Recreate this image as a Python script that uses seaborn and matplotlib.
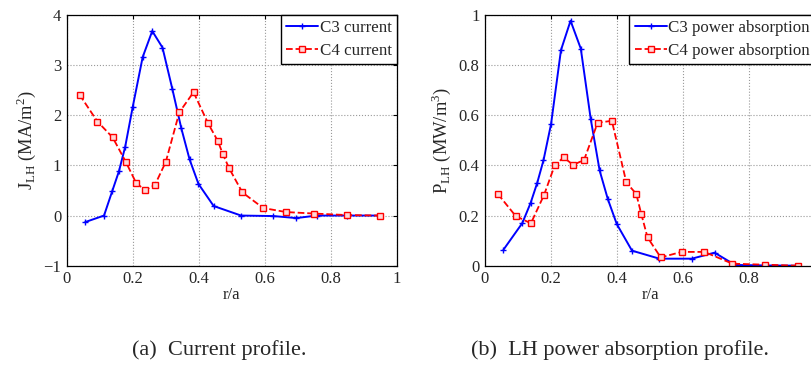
import matplotlib
matplotlib.use("Agg")
from matplotlib import pyplot as plt
import seaborn as sns

# r/a positions of the two profiles
r_c3 = [0.056, 0.113, 0.138, 0.158, 0.177, 0.200, 0.230, 0.259, 0.290, 0.320,
        0.347, 0.372, 0.399, 0.445, 0.528, 0.626, 0.695, 0.757, 0.848, 0.948]
r_c4 = [0.039, 0.093, 0.139, 0.179, 0.211, 0.238, 0.267, 0.300, 0.341, 0.384,
        0.428, 0.458, 0.473, 0.492, 0.532, 0.595, 0.664, 0.749, 0.848, 0.948]

# LH driven current (MA/m^2)
j_c3 = [-0.13, 0.0, 0.49, 0.88, 1.37, 2.17, 3.16, 3.68, 3.35, 2.52,
        1.74, 1.12, 0.63, 0.19, 0.0, -0.01, -0.05, 0.0, 0.0, 0.0]
j_c4 = [2.41, 1.875, 1.56, 1.07, 0.64, 0.51, 0.61, 1.07, 2.06, 2.46,
        1.84, 1.48, 1.22, 0.94, 0.46, 0.15, 0.07, 0.04, 0.01, 0.0]

# LH power absorption (MW/m^3)
p_c3 = [0.064, 0.17, 0.25, 0.33, 0.42, 0.565, 0.86, 0.977, 0.866, 0.586,
        0.38, 0.265, 0.166, 0.06, 0.028, 0.028, 0.052, 0.003, 0.001, 0.0]
p_c4 = [0.286, 0.198, 0.169, 0.283, 0.40, 0.432, 0.402, 0.422, 0.57, 0.578,
        0.332, 0.286, 0.207, 0.113, 0.033, 0.055, 0.055, 0.008, 0.004, 0.0]

sns.set_style("white")
plt.rcParams['font.family'] = ['Liberation Serif', 'DejaVu Serif']
plt.rcParams['mathtext.fontset'] = 'custom'
plt.rcParams['mathtext.rm'] = 'Liberation Serif'

fig = plt.figure(figsize=(8.12, 3.67), dpi=100)
W, H = 812, 367
ax1 = fig.add_axes([66.7 / W, 1 - 265.7 / H, 330.3 / W, 250.7 / H])
ax2 = fig.add_axes([485 / W, 1 - 265.7 / H, 330.3 / W, 250.7 / H])


def draw(ax, y3, y4, lab3, lab4):
    sns.lineplot(x=r_c3, y=y3, ax=ax, color='blue', lw=1.4, marker='+',
                 markersize=4, markeredgewidth=1.0, markeredgecolor='blue',
                 label=lab3)
    sns.lineplot(x=r_c4, y=y4, ax=ax, color='red', lw=1.3, linestyle='--',
                 marker='s', markersize=4, markerfacecolor='#ffd8d8',
                 markeredgecolor='red', markeredgewidth=1.0, label=lab4)
    ax.grid(True, linestyle=':', color='#999999', lw=0.8)
    for s in ax.spines.values():
        s.set_color('black')
        s.set_linewidth(0.9)
    ax.tick_params(direction='in', length=3, labelsize=12, color='black',
                   top=True, right=True, pad=4)
    ax.set_xlabel('r/a', fontsize=12, labelpad=0)
    leg = ax.legend(loc='upper right', fancybox=False, framealpha=1,
                    edgecolor='black', fontsize=12.2, borderaxespad=0,
                    handlelength=1.9, handletextpad=0.1, borderpad=0.3,
                    labelspacing=0.4)
    leg.get_frame().set_linewidth(1.0)


draw(ax1, j_c3, j_c4, 'C3 current', 'C4 current')
ax1.set_xlim(0, 1)
ax1.set_ylim(-1, 4)
ax1.set_xticks([0, 0.2, 0.4, 0.6, 0.8, 1])
ax1.set_xticklabels(['0', '0.2', '0.4', '0.6', '0.8', '1'])
ax1.set_yticks([-1, 0, 1, 2, 3, 4])
ax1.set_yticklabels(['\u22121', '0', '1', '2', '3', '4'])
ax1.set_ylabel(r'J$_{\mathrm{LH}}$ (MA/m$^2$)', fontsize=13.3, labelpad=4)

draw(ax2, p_c3, p_c4, 'C3 power absorption', 'C4 power absorption')
ax2.set_xlim(0, 1)
ax2.set_ylim(0, 1)
ax2.set_xticks([0, 0.2, 0.4, 0.6, 0.8, 1])
ax2.set_xticklabels(['0', '0.2', '0.4', '0.6', '0.8', ''])
ax2.set_yticks([0, 0.2, 0.4, 0.6, 0.8, 1])
ax2.set_yticklabels(['0', '0.2', '0.4', '0.6', '0.8', '1'])
ax2.set_ylabel(r'P$_{\mathrm{LH}}$ (MW/m$^3$)', fontsize=13.3, labelpad=4)

fig.text(219 / W, 1 - 350 / H, '(a)  Current profile.', ha='center', va='center', fontsize=16)
fig.text(620 / W, 1 - 350 / H, '(b)  LH power absorption profile.', ha='center', va='center', fontsize=16)

fig.savefig('out.png', dpi=100)
